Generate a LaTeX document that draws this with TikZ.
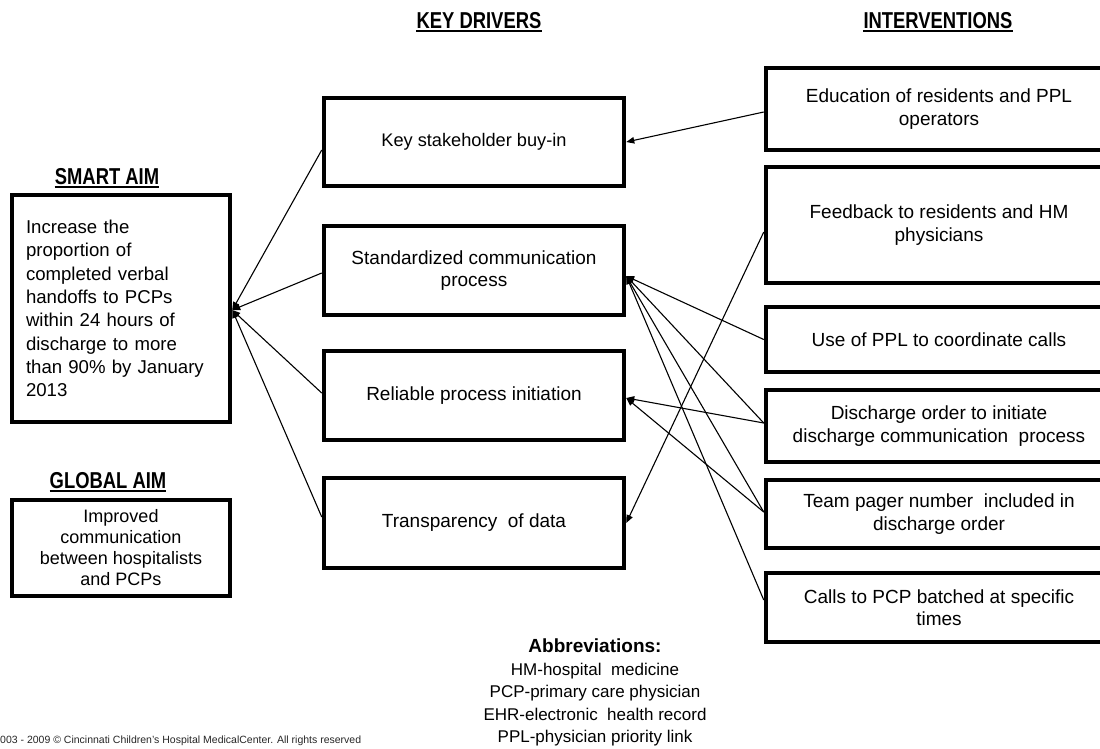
\documentclass[tikz,border=0pt]{standalone}
\usepackage{fontspec}
\setmainfont{Liberation Sans}
\newfontfamily\titlefont[FakeStretch=0.8]{Liberation Sans}
\usetikzlibrary{arrows.meta}
\begin{document}
\begin{tikzpicture}[x=1pt,y=-1pt,
  box/.style={draw=black, line width=4.5pt, rectangle, inner sep=2pt, align=center,
    font=\fontsize{19}{22.5}\selectfont},
  heading/.style={inner sep=0pt, font=\titlefont\bfseries\fontsize{23}{26}\selectfont},
  uline/.style={line width=1.6pt},
  conn/.style={line width=1.1pt, -{Triangle[length=8pt,width=6.5pt]}},
]
\useasboundingbox (0,0) rectangle (1100,748);

% headings
\node[heading, anchor=base] (hkd) at (479,28) {KEY DRIVERS};
\node[heading, anchor=base] (hint) at (938,28) {INTERVENTIONS};
\node[heading, anchor=base] (hsa) at (107,184) {SMART AIM};
\node[heading, anchor=base] (hga) at (108,488) {GLOBAL AIM};
\foreach \h in {hkd,hint,hsa,hga}
  \draw[uline] ([yshift=-3pt]\h.base west) -- ([yshift=-3pt]\h.base east);

% aims
\node[box, minimum width=218pt, minimum height=227pt, text width=190pt, align=left,
  font=\fontsize{18.6}{23.3}\selectfont] (smart) at (121,308.5)
  {Increase the\\proportion of\\completed verbal\\handoffs to PCPs\\within 24 hours of\\discharge to more\\than 90\% by January\\2013};
\node[box, minimum width=218pt, minimum height=96pt, font=\fontsize{18}{21}\selectfont] (global) at (121,548)
  {Improved\\communication\\between hospitalists\\and PCPs};

% key drivers
\node[box, minimum width=300pt, minimum height=88pt, font=\fontsize{18.2}{22.5}\selectfont] (d1) at (474,142) {Key stakeholder buy-in};
\node[box, minimum width=300pt, minimum height=89pt] (d2) at (474,270.5) {Standardized communication\\process};
\node[box, minimum width=300pt, minimum height=89pt] (d3) at (474,395.5) {Reliable process initiation};
\node[box, minimum width=300pt, minimum height=90pt] (d4) at (474,523) {Transparency\ \ of data};

% interventions
\node[box, minimum width=346pt, minimum height=82pt] (i1) at (939,109) {Education of residents and PPL\\operators};
\node[box, minimum width=346pt, minimum height=116pt] (i2) at (939,225) {Feedback to residents and HM\\physicians};
\node[box, minimum width=346pt, minimum height=65pt] (i3) at (939,339.5) {Use of PPL to coordinate calls};
\node[box, minimum width=346pt, minimum height=72pt] (i4) at (939,426) {Discharge order to initiate\\discharge communication\ \ process};
\node[box, minimum width=346pt, minimum height=68pt] (i5) at (939,514) {Team pager number\ \ included in\\discharge order};
\node[box, minimum width=346pt, minimum height=69pt] (i6) at (939,607.5) {Calls to PCP batched at specific\\times};

% abbreviations
\node[inner sep=0pt, align=center, font=\fontsize{17}{22.5}\selectfont, anchor=north] (abbr) at (595,639)
  {{\fontsize{19}{22.5}\selectfont\bfseries Abbreviations:}\\HM-hospital\ \ medicine\\PCP-primary care physician\\EHR-electronic\ \ health record\\PPL-physician priority link};

% copyright
\node[inner sep=0pt, anchor=west, font=\fontsize{10.5}{12}\selectfont, text=black!85] (copy) at (0,741)
  {003 - 2009 © Cincinnati Children's Hospital MedicalCenter. All rights reserved};

% connector end points
\coordinate (sa) at ([yshift=-1.5pt]smart.east);
\coordinate (d2in) at ([yshift=-5.5pt]d2.east);
\coordinate (d3in) at ([yshift=-2.5pt]d3.east);

% drivers -> smart aim
\draw[conn] ([yshift=-8pt]d1.west) -- (sa);
\draw[conn] ([yshift=-2.5pt]d2.west) -- (sa);
\draw[conn] ([yshift=2.5pt]d3.west) -- (sa);
\draw[conn] ([yshift=6pt]d4.west) -- (sa);

% interventions -> drivers
\draw[conn] ([yshift=-3pt]i1.west) -- (d1.east);
\draw[conn] ([yshift=-7pt]i2.west) -- (d4.east);
\draw[conn] (i3.west) -- (d2in);
\draw[conn] ([yshift=3pt]i4.west) -- (d2in);
\draw[conn] ([yshift=3pt]i4.west) -- (d3in);
\draw[conn] ([yshift=2pt]i5.west) -- (d2in);
\draw[conn] ([yshift=2pt]i5.west) -- (d3in);
\draw[conn] ([yshift=7.5pt]i6.west) -- (d2in);
\end{tikzpicture}
\end{document}
